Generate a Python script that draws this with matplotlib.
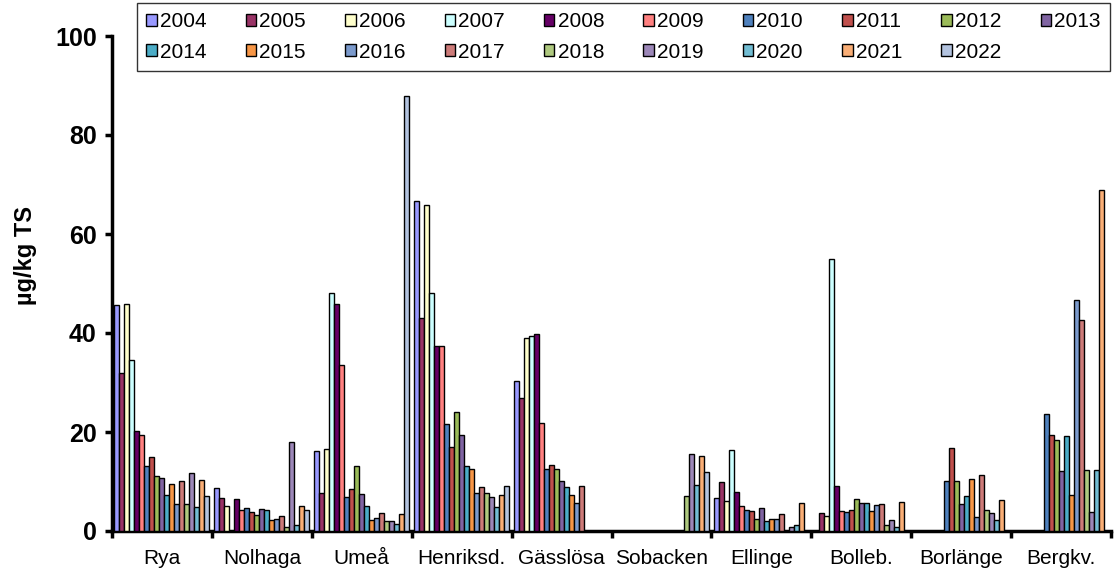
import numpy as np
import matplotlib
matplotlib.use('Agg')
import matplotlib.pyplot as plt

plt.rcParams['font.family'] = ['Liberation Sans', 'DejaVu Sans']

nan = np.nan

# Sites on the x axis.
sites = ['Rya', 'Nolhaga', 'Umeå', 'Henriksd.', 'Gässlösa', 'Sobacken',
         'Ellinge', 'Bolleb.', 'Borlänge', 'Bergkv.']
years = [str(y) for y in range(2004, 2023)]

# One list per site, values for 2004..2022 (nan = no sample).
rya = [45.6, 32.0, 45.8, 34.5, 20.2, 19.3, 13.1, 15.0, 11.1, 10.7,
       7.3, 9.4, 5.4, 10.1, 5.4, 11.8, 4.9, 10.4, 7.0]
nolhaga = [8.6, 6.7, 5.1, nan, 6.4, 4.2, 4.6, 3.8, 3.3, 4.4,
           4.2, 2.2, 2.4, 3.0, 0.9, 18.0, 1.3, 5.1, 4.2]
umea = [16.2, 7.7, 16.5, 48.1, 45.8, 33.6, 6.9, 8.4, 13.1, 7.5,
        5.0, 2.3, 2.6, 3.7, 2.0, 2.0, 1.5, 3.4, 87.9]
henriksd = [66.7, 43.1, 65.8, 48.1, 37.4, 37.4, 21.7, 17.0, 24.1, 19.3,
            13.1, 12.6, 7.7, 8.9, 7.7, 6.9, 4.9, 7.3, 9.0]
gasslosa = [30.3, 26.9, 39.0, 39.4, 39.7, 21.9, 12.5, 13.4, 12.5, 10.2,
            8.9, 7.3, 5.7, 9.1, nan, nan, nan, nan, nan]
sobacken = [nan, nan, nan, nan, nan, nan, nan, nan, nan, nan,
            nan, nan, nan, nan, 7.1, 15.6, 9.2, 15.1, 11.9]
ellinge = [6.7, 9.8, 6.1, 16.3, 7.9, 5.0, 4.2, 4.0, 2.5, 4.6,
           2.0, 2.5, 2.5, 3.5, nan, 0.8, 1.3, 5.7, nan]
bolleb = [nan, 3.6, 3.0, 54.9, 9.1, 4.0, 3.8, 4.3, 6.5, 5.7,
          5.7, 4.0, 5.3, 5.5, 1.3, 2.3, 0.9, 5.9, nan]
borlange = [nan, nan, nan, nan, nan, nan, 10.1, 16.8, 10.2, 5.5,
            7.0, 10.6, 2.8, 11.3, 4.3, 3.6, 2.3, 6.3, nan]
bergkv = [nan, nan, nan, nan, nan, nan, 23.7, 19.3, 18.3, 12.1,
          19.1, 7.2, 46.6, 42.7, 12.3, 3.8, 12.3, 68.9, nan]

site_values = [rya, nolhaga, umea, henriksd, gasslosa, sobacken,
               ellinge, bolleb, borlange, bergkv]

colors = ['#9999FF', '#993366', '#FFFFCC', '#CCFFFF', '#660066', '#FF8080',
          '#4F81BD', '#C0504D', '#9BBB59', '#8064A2', '#4BACC6', '#F79646',
          '#7B9ACC', '#CD7B79', '#AFC97F', '#9C87B8', '#72BDD3', '#F9AE76',
          '#B3C3DF']

data = np.array(site_values, dtype=float)  # sites x years

fig = plt.figure(figsize=(11.16, 5.71), dpi=100)
ax = fig.add_axes([112 / 1116, 40 / 571, 999 / 1116, 495 / 571])

n_years = len(years)
width = 1.0 / (n_years + 1)
x = np.arange(len(sites))
handles = []
for j, year in enumerate(years):
    offset = (j - (n_years - 1) / 2) * width
    h = ax.bar(x + offset, data[:, j], width=width, color=colors[j],
               edgecolor='black', linewidth=1.0, label=year, zorder=3)
    handles.append(h)

ax.set_xlim(-0.5, len(sites) - 0.5)
ax.set_ylim(0, 100)
ax.set_yticks([0, 20, 40, 60, 80, 100])
ax.set_xticks(x)
ax.set_xticklabels(sites, fontsize=15)
ax.set_xticks(np.arange(len(sites) + 1) - 0.5, minor=True)
ax.tick_params(axis='x', which='major', length=0, pad=13)
ax.tick_params(axis='x', which='minor', length=5, width=2.5, direction='out')
ax.tick_params(axis='y', length=5, width=2.5, direction='out', labelsize=18, pad=6)
for lbl in ax.get_yticklabels():
    lbl.set_fontweight('bold')

for side in ['top', 'right']:
    ax.spines[side].set_visible(False)
ax.spines['left'].set_linewidth(2.5)
ax.spines['bottom'].set_linewidth(2.5)

ax.set_ylabel('µg/kg TS', fontsize=17, fontweight='bold')
ax.yaxis.set_label_coords(-0.075, 0.557)

# Legend is filled row by row: reorder for matplotlib's column-wise fill.
ncol = 10
order = []
for c in range(ncol):
    for r in range(2):
        k = r * ncol + c
        if k < n_years:
            order.append(k)

leg = fig.legend([handles[k] for k in order], [years[k] for k in order],
                 loc='lower left', bbox_to_anchor=(137 / 1116, 1 - 71 / 571, 973 / 1116, 66 / 571),
                 mode='expand', ncol=ncol, fontsize=15, frameon=True, fancybox=False,
                 edgecolor='black', handlelength=0.5, handleheight=0.5,
                 handletextpad=0.15, borderaxespad=0, borderpad=0.45,
                 labelspacing=0.55, columnspacing=0.5)
leg.get_frame().set_linewidth(1.0)

fig.savefig('out.png', dpi=100)
